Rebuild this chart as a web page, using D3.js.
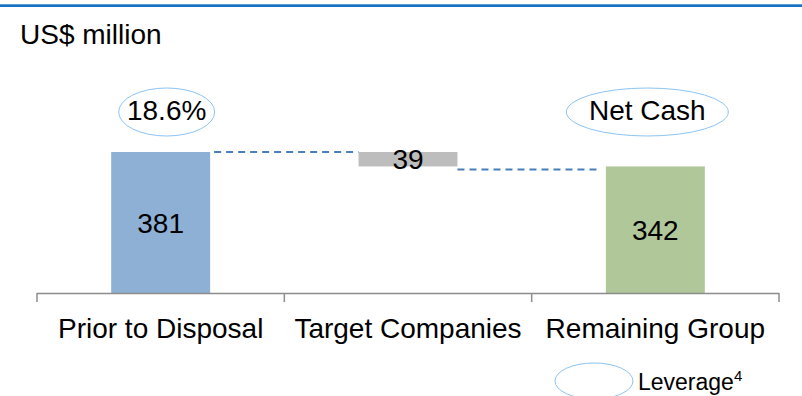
<!DOCTYPE html>
<html><head><meta charset="utf-8">
<script src="https://cdn.jsdelivr.net/npm/d3@7"></script>
<style>body{margin:0;background:#fff}svg{display:block;font-family:"Liberation Sans",Arial,sans-serif}</style>
</head><body><svg id="c" width="802" height="396"></svg>
<script>
const categories = ["Prior to Disposal", "Target Companies", "Remaining Group"];
const values = [381, -39, 342];
const types = ["total", "delta", "total"];
const barLabels = ["381", "39", "342"];
const leverageLabels = ["18.6%", null, "Net Cash"];
const unitLabel = "US$ million";
const legendLabel = "Leverage";
const colors = ["#8eb0d5", "#bdbdbd", "#b0c79a"];

const svg = d3.select("#c");
const W = 802, H = 396;
const m = {left: 37, right: 23, top: 152, bottom: 103};

svg.append("rect").attr("x", 0).attr("y", 4).attr("width", W).attr("height", 3).attr("fill", "#1672c2");
svg.append("rect").attr("x", 0).attr("y", 4).attr("width", W).attr("height", 1).attr("fill", "#5c9bd6");

svg.append("text").attr("x", 20).attr("y", 44).attr("font-size", 28).attr("fill", "#000").text(unitLabel);

const x = d3.scaleBand().domain(categories).range([m.left, W - m.right]).paddingInner(0).paddingOuter(0);
const y = d3.scaleLinear().domain([0, 381]).range([H - m.bottom, m.top]);

let run = 0;
const bars = categories.map((c, i) => {
  let y0, y1;
  if (types[i] === "total") { y0 = 0; y1 = values[i]; run = values[i]; }
  else { y0 = run + values[i]; y1 = run; run = run + values[i]; }
  return {c, i, y0, y1};
});

const bw = x.bandwidth() * 0.4;
const bx = c => x(c) + (x.bandwidth() - bw) / 2;

svg.selectAll("rect.bar").data(bars).enter().append("rect")
  .attr("class", "bar")
  .attr("x", d => bx(d.c))
  .attr("y", d => y(d.y1))
  .attr("width", bw)
  .attr("height", d => y(d.y0) - y(d.y1))
  .attr("fill", (d, i) => colors[i]);

const conn = [
  {x1: bx(categories[0]) + bw + 4, x2: bx(categories[1]), v: values[0], off: 0},
  {x1: bx(categories[1]) + bw, x2: bx(categories[2]) - 6, v: values[2], off: 3}
];
svg.selectAll("line.conn").data(conn).enter().append("line")
  .attr("x1", d => d.x1).attr("x2", d => d.x2)
  .attr("y1", d => y(d.v) + d.off).attr("y2", d => y(d.v) + d.off)
  .attr("stroke", "#4a7ebb").attr("stroke-width", 2).attr("stroke-dasharray", "7,5");

const axis = d3.axisBottom(x).tickSize(0).tickFormat("");
const gx = svg.append("g").attr("transform", `translate(0,${H - m.bottom})`).call(axis);
gx.select(".domain").remove();
svg.append("line").attr("x1", m.left).attr("x2", W - m.right).attr("y1", H - m.bottom + 0.5).attr("y2", H - m.bottom + 0.5).attr("stroke", "#8c8c8c").attr("stroke-width", 1.5);
const tickX = categories.map(c => x(c)).concat([x(categories[categories.length - 1]) + x.bandwidth()]);
svg.selectAll("line.tick2").data(tickX).enter().append("line")
  .attr("x1", d => d).attr("x2", d => d)
  .attr("y1", H - m.bottom).attr("y2", H - m.bottom + 9)
  .attr("stroke", "#8c8c8c").attr("stroke-width", 1.5);

svg.selectAll("text.cat").data(categories).enter().append("text")
  .attr("x", d => x(d) + x.bandwidth() / 2)
  .attr("y", H - m.bottom + 45)
  .attr("text-anchor", "middle").attr("font-size", 28).attr("fill", "#000")
  .text(d => d);

svg.selectAll("text.bl").data(bars).enter().append("text")
  .attr("x", d => x(d.c) + x.bandwidth() / 2)
  .attr("y", d => (y(d.y0) + y(d.y1)) / 2)
  .attr("dy", "0.36em")
  .attr("text-anchor", "middle").attr("font-size", 28).attr("fill", "#000")
  .text((d, i) => barLabels[i]);

const lev = categories.map((c, i) => ({c, t: leverageLabels[i]})).filter(d => d.t);
const eg = svg.selectAll("g.lev").data(lev).enter().append("g")
  .attr("transform", d => `translate(${x(d.c) + x.bandwidth() / 2 + (d.t.length > 5 ? -8 : 6)},112)`);
eg.append("ellipse").attr("rx", d => d.t.length > 5 ? 81 : 48).attr("ry", 24)
  .attr("fill", "none").attr("stroke", "#8cc4f4").attr("stroke-width", 1);
eg.append("text").attr("dy", "0.28em").attr("text-anchor", "middle").attr("font-size", 28).attr("fill", "#000").text(d => d.t);

svg.append("ellipse").attr("cx", 594).attr("cy", 381).attr("rx", 39).attr("ry", 18)
  .attr("fill", "none").attr("stroke", "#8cc4f4").attr("stroke-width", 1);
const lt = svg.append("text").attr("x", 638).attr("y", 390).attr("font-size", 23).attr("fill", "#000");
lt.append("tspan").text(legendLabel);
lt.append("tspan").attr("font-size", 15).attr("dy", -9).text("4");
</script></body></html>
